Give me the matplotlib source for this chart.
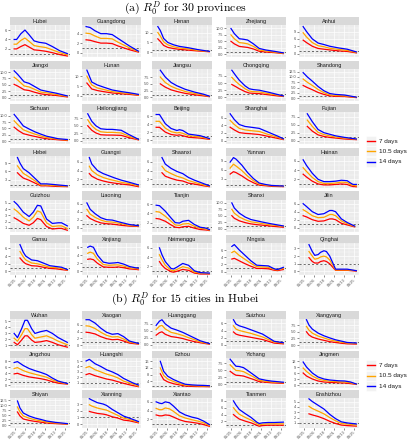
import matplotlib
matplotlib.use("Agg")
import matplotlib.pyplot as plt
from matplotlib.patches import Rectangle

plt.rcParams["font.family"] = ["Liberation Sans", "DejaVu Sans"]
plt.rcParams["mathtext.fontset"] = "cm"

W, H = 407, 440

# ---------------------------------------------------------------------------
# Data: day index of each estimate and R0 for the three serial intervals
# ---------------------------------------------------------------------------
PROVINCES = ["Hubei", "Guangdong", "Henan", "Zhejiang", "Anhui",
             "Jiangxi", "Hunan", "Jiangsu", "Chongqing", "Shandong",
             "Sichuan", "Heilongjiang", "Beijing", "Shanghai", "Fujian",
             "Hebei", "Guangxi", "Shaanxi", "Yunnan", "Hainan",
             "Guizhou", "Liaoning", "Tianjin", "Shanxi", "Jilin",
             "Gansu", "Xinjiang", "Neimenggu", "Ningxia", "Qinghai"]
CITIES = ["Wuhan", "Xiaogan", "Huanggang", "Suizhou", "Xiangyang",
          "Jingzhou", "Huangshi", "Ezhou", "Yichang", "Jingmen",
          "Shiyan", "Xianning", "Xiantao", "Tianmen", "Enshizhou"]

DAY_TICKS = [1, 13, 25, 37, 49, 61]
DAY_LABELS = ["01/25", "02/06", "02/18", "03/01", "03/13", "03/25"]

DAYS = {
    "Hubei": [0, 3, 8, 13, 18, 24, 30, 38, 46, 55, 64],
    "Guangdong": [0, 5, 11, 18, 25, 32, 39, 46, 53, 64],
    "Henan": [2, 5, 9, 14, 21, 28, 39, 50, 64],
    "Zhejiang": [1, 5, 11, 16, 21, 28, 35, 43, 53, 64],
    "Anhui": [0, 4, 11, 18, 25, 32, 43, 53, 64],
    "Jiangxi": [0, 4, 12, 18, 25, 32, 39, 50, 64],
    "Hunan": [1, 4, 7, 14, 21, 32, 43, 53, 64],
    "Jiangsu": [5, 11, 18, 25, 35, 46, 57, 64],
    "Chongqing": [2, 7, 11, 18, 23, 28, 35, 46, 57, 64],
    "Shandong": [0, 5, 11, 18, 25, 32, 39, 50, 64],
    "Sichuan": [0, 5, 11, 18, 25, 32, 39, 53, 64],
    "Heilongjiang": [2, 7, 12, 18, 25, 32, 43, 53, 64],
    "Beijing": [0, 4, 11, 18, 25, 28, 32, 39, 53, 64],
    "Shanghai": [0, 5, 11, 18, 25, 35, 46, 57, 64],
    "Fujian": [5, 11, 18, 25, 32, 39, 50, 64],
    "Hebei": [4, 7, 11, 18, 25, 32, 39, 50, 64],
    "Guangxi": [4, 7, 14, 21, 28, 35, 43, 53, 64],
    "Shaanxi": [7, 11, 18, 25, 32, 39, 46, 57, 64],
    "Yunnan": [0, 4, 7, 14, 21, 28, 35, 43, 50, 64],
    "Hainan": [0, 4, 11, 18, 25, 32, 39, 46, 53, 57, 60, 64],
    "Guizhou": [0, 4, 11, 18, 23, 28, 32, 39, 46, 53, 57, 64],
    "Liaoning": [1, 5, 11, 18, 25, 32, 43, 53, 64],
    "Tianjin": [0, 4, 11, 18, 23, 28, 32, 39, 46, 53, 60, 64],
    "Shanxi": [2, 5, 11, 18, 25, 32, 39, 50, 64],
    "Jilin": [0, 4, 11, 18, 25, 32, 35, 39, 46, 53, 62],
    "Gansu": [7, 11, 14, 21, 28, 35, 43, 50, 57, 64],
    "Xinjiang": [2, 5, 9, 14, 21, 28, 35, 39, 46, 53, 60, 64],
    "Neimenggu": [4, 7, 11, 18, 21, 25, 32, 39, 46, 53, 64],
    "Ningxia": [2, 5, 11, 18, 25, 32, 39, 46, 53, 57, 64],
    "Qinghai": [7, 11, 14, 18, 21, 25, 28, 32, 39, 46, 53, 64],
    "Wuhan": [0, 4, 9, 13, 16, 21, 25, 32, 39, 46, 53, 64],
    "Xiaogan": [0, 4, 11, 18, 25, 32, 39, 46, 53, 64],
    "Huanggang": [0, 4, 7, 11, 18, 25, 32, 39, 46, 53, 64],
    "Suizhou": [4, 7, 11, 18, 25, 32, 39, 46, 53, 64],
    "Xiangyang": [4, 7, 11, 18, 25, 32, 39, 46, 53, 64],
    "Jingzhou": [0, 4, 11, 18, 25, 32, 39, 46, 53, 64],
    "Huangshi": [0, 4, 11, 18, 25, 32, 39, 46, 57, 64],
    "Ezhou": [5, 9, 14, 21, 28, 35, 43, 50, 57, 64],
    "Yichang": [0, 4, 7, 11, 16, 21, 28, 35, 43, 50, 64],
    "Jingmen": [0, 4, 11, 18, 25, 32, 43, 50, 57, 64],
    "Shiyan": [4, 7, 11, 18, 25, 32, 39, 50, 64],
    "Xianning": [4, 7, 14, 21, 25, 32, 39, 46, 53, 64],
    "Xiantao": [0, 4, 7, 11, 16, 21, 28, 35, 43, 50, 57, 64],
    "Tianmen": [4, 7, 11, 18, 25, 32, 35, 39, 46, 53, 64],
    "Enshizhou": [7, 11, 18, 25, 32, 39, 46, 53, 64],
}

R_14 = {
    "Hubei": [4.0, 4.0, 5.2, 6.0, 5.0, 3.7, 3.4, 3.2, 2.5, 1.6, 1.0],
    "Guangdong": [5.5, 5.3, 4.6, 4.0, 4.0, 3.8, 3.0, 2.2, 1.4, 0.3],
    "Henan": [13, 11, 7, 5, 3.8, 3.0, 2.3, 1.4, 0.5],
    "Zhejiang": [10, 8.0, 6.0, 5.8, 5.5, 4.0, 2.2, 1.6, 1.1, 0.5],
    "Anhui": [11, 9, 6, 4.3, 3.7, 3.0, 2.3, 1.8, 0.7],
    "Jiangxi": [10.5, 9.2, 6.2, 5.6, 4.3, 3.0, 2.5, 1.8, 0.7],
    "Hunan": [13, 10, 7, 5.5, 4.5, 3.0, 2.2, 1.6, 0.8],
    "Jiangsu": [10, 7.5, 5.5, 4.3, 3.0, 2.0, 1.2, 0.5],
    "Chongqing": [9.5, 7.5, 6.0, 4.0, 3.0, 2.7, 2.5, 1.8, 1.0, 0.5],
    "Shandong": [12, 10, 8, 5.5, 3.5, 2.2, 1.8, 1.5, 0.5],
    "Sichuan": [10.5, 8.5, 6, 4.8, 3.7, 2.8, 2.0, 1.0, 0.7],
    "Heilongjiang": [9, 6.5, 5, 4, 3.8, 3.8, 3.5, 2.0, 0.5],
    "Beijing": [6.5, 6.5, 4.2, 3.0, 2.5, 2.7, 2.5, 1.6, 1.2, 0.5],
    "Shanghai": [7, 5.5, 4.2, 3.7, 3.5, 3.2, 2.2, 1.2, 0.5],
    "Fujian": [8.5, 6, 3.5, 2.5, 2.0, 1.5, 1.0, 0.5],
    "Hebei": [11, 9, 7, 5.5, 3.5, 1.5, 1.5, 1.2, 0.8],
    "Guangxi": [7, 5.5, 4, 3.3, 2.8, 2.3, 1.8, 1.3, 0.7],
    "Shaanxi": [7, 5.5, 4.5, 3.8, 3.3, 2.4, 1.8, 1.0, 0.5],
    "Yunnan": [8.5, 10, 9.5, 7.5, 5, 3, 1.5, 1.0, 0.7, 0.5],
    "Hainan": [6.2, 5, 3.3, 2, 1.5, 1.5, 1.6, 1.8, 1.7, 1.2, 0.9, 0.9],
    "Guizhou": [5.2, 4.7, 3.5, 2.8, 3.5, 4.6, 4.5, 2.4, 1.7, 1.8, 1.8, 1.3],
    "Liaoning": [6.2, 4.6, 3.5, 2.5, 2.0, 1.9, 1.3, 0.8, 0.5],
    "Tianjin": [5.8, 5.7, 4.5, 3.0, 2.0, 1.9, 2.3, 2.5, 1.6, 1.0, 0.8, 0.5],
    "Shanxi": [10, 8, 6, 4.5, 3.5, 3, 2.5, 1.8, 1.0],
    "Jilin": [6, 5.3, 4.0, 3.3, 3.5, 4.3, 4.3, 4.0, 2.2, 1.3, 0.4],
    "Gansu": [7, 5, 4, 3.0, 2.8, 2.2, 1.5, 1.3, 1.1, 0.5],
    "Xinjiang": [6.0, 6.3, 6.0, 4.0, 2.3, 2.0, 2.1, 2.2, 1.8, 1.2, 0.9, 0.8],
    "Neimenggu": [6, 4.5, 3.0, 1.5, 1.4, 1.8, 2.6, 2.2, 1.0, 0.6, 0.5],
    "Ningxia": [7, 7.5, 6, 4.5, 3.0, 1.8, 1.7, 1.6, 0.8, 0.6, 1.2],
    "Qinghai": [3.5, 2.6, 2.1, 2.2, 2.5, 2.7, 2.6, 2.0, 0.3, 0.3, 0.3, 0.1],
    "Wuhan": [3.0, 2.3, 3.8, 5.2, 5.2, 3.8, 3.0, 3.3, 3.5, 3.0, 2.3, 1.5],
    "Xiaogan": [7.5, 7.5, 6.5, 5.0, 3.8, 3.2, 3.4, 2.5, 1.2, 0.5],
    "Huanggang": [7, 8.5, 9, 7.5, 6, 5.3, 4.5, 3.5, 2.5, 1.5, 0.5],
    "Suizhou": [7, 5.8, 5.3, 4.8, 4.2, 3.6, 3.0, 2.0, 1.0, 0.6],
    "Xiangyang": [9.5, 7.5, 6, 4.5, 3.5, 2.7, 2.0, 1.5, 1.0, 0.8],
    "Jingzhou": [7.5, 7.8, 6.5, 5.5, 4.8, 4.2, 3.5, 2.3, 1.3, 0.5],
    "Huangshi": [5, 5.3, 4.5, 4.0, 3.4, 3.0, 2.5, 1.8, 1.0, 0.6],
    "Ezhou": [16, 10, 7, 5, 3.5, 2.2, 1.8, 1.6, 1.5, 1.3],
    "Yichang": [9, 7.5, 6.5, 6.4, 6.0, 5.0, 3.5, 2.0, 1.5, 1.2, 0.8],
    "Jingmen": [11.5, 9, 6, 4, 3, 2.5, 2.1, 2.0, 1.5, 0.5],
    "Shiyan": [12, 8.5, 6.0, 4.5, 3.5, 2.8, 2.0, 1.3, 0.7],
    "Xianning": [3.8, 3.6, 3.2, 3.0, 2.8, 2.2, 1.7, 1.2, 0.9, 0.4],
    "Xiantao": [6.0, 5.7, 5.6, 6.0, 5.8, 5.0, 3.7, 3.0, 2.5, 2.2, 1.6, 0.8],
    "Tianmen": [8, 6.8, 5.5, 4.3, 3.2, 1.8, 1.4, 1.6, 1.7, 1.7, 1.8],
    "Enshizhou": [5.5, 5.0, 4.3, 3.6, 2.6, 1.8, 1.2, 1.0, 0.8],
}

R_105 = {
    "Hubei": [3.0, 3.0, 3.8, 4.3, 3.6, 2.7, 2.5, 2.3, 1.8, 1.2, 0.75],
    "Guangdong": [4.1, 4.0, 3.5, 3.0, 3.0, 2.9, 2.2, 1.6, 1.0, 0.2],
    "Henan": [10, 8.2, 5.3, 3.8, 2.8, 2.2, 1.7, 1.0, 0.4],
    "Zhejiang": [7.5, 6.0, 4.5, 4.3, 4.0, 3.0, 1.6, 1.2, 0.8, 0.3],
    "Anhui": [8.5, 6.8, 4.5, 3.2, 2.8, 2.2, 1.7, 1.3, 0.5],
    "Jiangxi": [8.0, 7.0, 4.6, 4.2, 3.2, 2.2, 1.9, 1.3, 0.5],
    "Hunan": [10, 7.5, 5.5, 4.0, 3.3, 2.2, 1.6, 1.2, 0.5],
    "Jiangsu": [7.5, 5.5, 4.1, 3.2, 2.2, 1.5, 0.9, 0.4],
    "Chongqing": [7.0, 5.5, 4.5, 3.0, 2.2, 2.0, 1.9, 1.3, 0.8, 0.4],
    "Shandong": [9, 7.5, 6, 4.1, 2.6, 1.6, 1.3, 1.1, 0.4],
    "Sichuan": [8, 6.3, 4.5, 3.6, 2.8, 2.1, 1.5, 0.8, 0.5],
    "Heilongjiang": [7, 5, 3.8, 3, 2.8, 2.8, 2.6, 1.5, 0.4],
    "Beijing": [4.8, 4.8, 3.1, 2.2, 1.9, 2.0, 1.8, 1.2, 0.9, 0.4],
    "Shanghai": [5.3, 4.2, 3.2, 2.8, 2.6, 2.4, 1.6, 0.9, 0.4],
    "Fujian": [6.5, 4.5, 2.6, 1.9, 1.5, 1.1, 0.8, 0.4],
    "Hebei": [8, 6.8, 5.3, 4, 2.6, 1.1, 1.1, 0.9, 0.6],
    "Guangxi": [5, 4, 3, 2.4, 2, 1.7, 1.3, 1.0, 0.5],
    "Shaanxi": [5, 4, 3.3, 2.7, 2.3, 1.7, 1.3, 0.7, 0.4],
    "Yunnan": [6.5, 7.8, 7.2, 5.7, 3.8, 2.3, 1.2, 0.8, 0.6, 0.4],
    "Hainan": [4.5, 3.7, 2.4, 1.5, 1.1, 1.1, 1.2, 1.4, 1.3, 0.9, 0.7, 0.6],
    "Guizhou": [4.0, 3.6, 2.7, 2.1, 2.7, 3.7, 3.5, 1.8, 1.2, 1.3, 1.3, 0.9],
    "Liaoning": [4.6, 3.4, 2.6, 1.9, 1.5, 1.4, 1.0, 0.6, 0.4],
    "Tianjin": [4.4, 4.3, 3.4, 2.3, 1.5, 1.4, 1.7, 1.8, 1.2, 0.8, 0.6, 0.4],
    "Shanxi": [7.5, 6, 4.5, 3.4, 2.6, 2.3, 1.9, 1.4, 0.8],
    "Jilin": [4.5, 4.0, 3.0, 2.5, 2.6, 3.3, 3.3, 3.0, 1.7, 1.0, 0.3],
    "Gansu": [5.2, 3.8, 3.0, 2.2, 2.0, 1.6, 1.1, 1.0, 0.8, 0.4],
    "Xinjiang": [4.5, 4.8, 4.5, 3.0, 1.7, 1.5, 1.6, 1.6, 1.3, 0.9, 0.7, 0.6],
    "Neimenggu": [4.5, 3.4, 2.2, 1.1, 1.0, 1.3, 1.9, 1.6, 0.7, 0.5, 0.4],
    "Ningxia": [5.3, 5.7, 4.5, 3.4, 2.3, 1.4, 1.3, 1.2, 0.6, 0.5, 0.9],
    "Qinghai": [2.6, 2.0, 1.6, 1.7, 1.9, 2.0, 1.9, 1.5, 0.2, 0.2, 0.2, 0.1],
    "Wuhan": [2.2, 1.7, 2.8, 3.8, 3.8, 2.8, 2.2, 2.4, 2.6, 2.2, 1.7, 1.1],
    "Xiaogan": [5.7, 5.6, 4.9, 3.8, 2.9, 2.4, 2.5, 1.8, 0.9, 0.4],
    "Huanggang": [5.5, 6.7, 7, 5.7, 4.5, 4.0, 3.4, 2.6, 1.9, 1.1, 0.4],
    "Suizhou": [5.3, 4.4, 4.0, 3.6, 3.2, 2.7, 2.2, 1.5, 0.8, 0.5],
    "Xiangyang": [7, 5.6, 4.5, 3.4, 2.7, 2.0, 1.5, 1.1, 0.8, 0.6],
    "Jingzhou": [5.5, 5.8, 4.8, 4.1, 3.6, 3.1, 2.6, 1.7, 1.0, 0.4],
    "Huangshi": [3.8, 4.0, 3.4, 3.0, 2.6, 2.3, 1.9, 1.3, 0.8, 0.4],
    "Ezhou": [12, 7.5, 5.3, 3.8, 2.6, 1.7, 1.4, 1.2, 1.1, 1.0],
    "Yichang": [7, 5.8, 5.0, 4.9, 4.6, 3.8, 2.7, 1.5, 1.1, 0.9, 0.6],
    "Jingmen": [8.5, 6.8, 4.5, 3, 2.3, 1.9, 1.6, 1.5, 1.1, 0.4],
    "Shiyan": [9, 6.5, 4.5, 3.4, 2.6, 2.1, 1.5, 1.0, 0.5],
    "Xianning": [2.9, 2.7, 2.4, 2.2, 2.1, 1.7, 1.3, 0.9, 0.7, 0.3],
    "Xiantao": [4.5, 4.2, 4.2, 4.6, 4.4, 3.8, 2.8, 2.3, 1.9, 1.6, 1.2, 0.6],
    "Tianmen": [6, 5.1, 4.1, 3.2, 2.4, 1.4, 1.0, 1.2, 1.3, 1.3, 1.3],
    "Enshizhou": [4.1, 3.7, 3.2, 2.7, 2.0, 1.4, 0.9, 0.8, 0.6],
}

R_7 = {
    "Hubei": [2.0, 2.0, 2.5, 2.9, 2.4, 1.8, 1.7, 1.5, 1.2, 0.8, 0.5],
    "Guangdong": [2.7, 2.6, 2.3, 2.0, 2.0, 1.9, 1.4, 1.0, 0.6, 0.1],
    "Henan": [6.8, 5.5, 3.5, 2.5, 1.9, 1.5, 1.1, 0.7, 0.3],
    "Zhejiang": [5.0, 4.0, 3.0, 2.8, 2.6, 2.0, 1.1, 0.8, 0.6, 0.2],
    "Anhui": [5.5, 4.5, 3.0, 2.1, 1.8, 1.5, 1.1, 0.9, 0.3],
    "Jiangxi": [5.2, 4.6, 3.1, 2.8, 2.1, 1.5, 1.2, 0.9, 0.3],
    "Hunan": [6.5, 5.0, 3.5, 2.7, 2.2, 1.5, 1.1, 0.8, 0.3],
    "Jiangsu": [5.0, 3.8, 2.8, 2.2, 1.5, 1.0, 0.6, 0.3],
    "Chongqing": [4.5, 3.7, 3.0, 2.0, 1.5, 1.4, 1.3, 0.9, 0.5, 0.3],
    "Shandong": [6, 5, 4, 2.7, 1.8, 1.1, 0.9, 0.8, 0.3],
    "Sichuan": [5.5, 4.2, 3, 2.4, 1.9, 1.4, 1.0, 0.6, 0.3],
    "Heilongjiang": [5, 3.5, 2.6, 2, 1.9, 1.9, 1.8, 1.0, 0.3],
    "Beijing": [3.3, 3.3, 2.1, 1.5, 1.3, 1.4, 1.2, 0.8, 0.6, 0.3],
    "Shanghai": [3.5, 2.8, 2.1, 1.9, 1.8, 1.6, 1.1, 0.6, 0.3],
    "Fujian": [4.5, 3.0, 1.8, 1.3, 1.0, 0.8, 0.5, 0.3],
    "Hebei": [5.5, 4.6, 3.6, 2.8, 1.8, 0.8, 0.8, 0.6, 0.5],
    "Guangxi": [3.3, 2.7, 2, 1.6, 1.3, 1.1, 0.9, 0.7, 0.3],
    "Shaanxi": [3.5, 2.7, 2.2, 1.8, 1.6, 1.1, 0.9, 0.5, 0.3],
    "Yunnan": [4.5, 5.3, 5.0, 3.9, 2.6, 1.6, 0.8, 0.6, 0.4, 0.3],
    "Hainan": [3.1, 2.5, 1.6, 1.0, 0.8, 0.8, 0.9, 1.0, 0.9, 0.6, 0.45, 0.4],
    "Guizhou": [2.6, 2.3, 1.7, 1.4, 1.8, 2.5, 2.3, 1.2, 0.8, 0.9, 0.9, 0.6],
    "Liaoning": [3.0, 2.3, 1.7, 1.2, 1.0, 0.9, 0.6, 0.4, 0.3],
    "Tianjin": [2.9, 2.8, 2.3, 1.5, 1.0, 0.9, 1.1, 1.2, 0.8, 0.5, 0.4, 0.3],
    "Shanxi": [5, 4, 3, 2.3, 1.8, 1.5, 1.3, 0.9, 0.5],
    "Jilin": [3.0, 2.7, 2.0, 1.6, 1.7, 2.2, 2.2, 2.0, 1.1, 0.7, 0.2],
    "Gansu": [3.5, 2.5, 2, 1.5, 1.4, 1.1, 0.8, 0.7, 0.5, 0.3],
    "Xinjiang": [3.0, 3.1, 2.9, 2.0, 1.1, 1.0, 1.0, 1.1, 0.9, 0.6, 0.5, 0.4],
    "Neimenggu": [3.0, 2.2, 1.5, 0.8, 0.7, 0.9, 1.3, 1.1, 0.5, 0.3, 0.3],
    "Ningxia": [3.5, 3.7, 3.0, 2.2, 1.5, 0.9, 0.9, 0.8, 0.4, 0.3, 0.6],
    "Qinghai": [1.8, 1.3, 1.1, 1.1, 1.3, 1.4, 1.3, 1.0, 0.15, 0.15, 0.15, 0.05],
    "Wuhan": [1.5, 1.1, 1.9, 2.6, 2.6, 1.9, 1.5, 1.6, 1.8, 1.5, 1.1, 0.7],
    "Xiaogan": [3.8, 3.7, 3.3, 2.5, 1.9, 1.6, 1.7, 1.2, 0.6, 0.3],
    "Huanggang": [3.5, 4.4, 4.7, 3.8, 3.0, 2.7, 2.3, 1.7, 1.2, 0.8, 0.3],
    "Suizhou": [3.6, 3.0, 2.7, 2.4, 2.1, 1.8, 1.5, 1.0, 0.5, 0.3],
    "Xiangyang": [5, 3.8, 3, 2.3, 1.8, 1.3, 1.0, 0.7, 0.5, 0.4],
    "Jingzhou": [3.7, 3.9, 3.2, 2.7, 2.4, 2.1, 1.7, 1.1, 0.6, 0.3],
    "Huangshi": [2.5, 2.7, 2.3, 2.0, 1.7, 1.5, 1.2, 0.9, 0.5, 0.3],
    "Ezhou": [8.5, 5, 3.6, 2.5, 1.8, 1.1, 0.9, 0.8, 0.8, 0.7],
    "Yichang": [4.7, 3.8, 3.3, 3.2, 3.0, 2.5, 1.8, 1.0, 0.8, 0.6, 0.4],
    "Jingmen": [6, 4.5, 3, 2, 1.5, 1.3, 1.1, 1.0, 0.7, 0.3],
    "Shiyan": [6.5, 4.5, 3.0, 2.3, 1.8, 1.4, 1.0, 0.7, 0.4],
    "Xianning": [1.9, 1.8, 1.6, 1.5, 1.4, 1.1, 0.9, 0.6, 0.5, 0.2],
    "Xiantao": [3.0, 2.8, 2.8, 3.0, 2.9, 2.5, 1.9, 1.5, 1.3, 1.1, 0.8, 0.4],
    "Tianmen": [4, 3.4, 2.7, 2.1, 1.6, 0.9, 0.6, 0.8, 0.9, 0.9, 0.9],
    "Enshizhou": [2.7, 2.5, 2.2, 1.8, 1.3, 0.9, 0.6, 0.5, 0.4],
}

Y_TICKS = {
    "Hubei": [2, 4, 6], "Guangdong": [0, 2, 4], "Henan": [0, 5, 10],
    "Zhejiang": [0, 2.5, 5, 7.5, 10], "Anhui": [0, 3, 6, 9],
    "Jiangxi": [0, 2.5, 5, 7.5, 10], "Hunan": [0, 5, 10],
    "Jiangsu": [0, 2.5, 5, 7.5], "Chongqing": [0, 2.5, 5, 7.5],
    "Shandong": [0, 2.5, 5, 7.5, 10, 12.5],
    "Sichuan": [0, 2.5, 5, 7.5, 10], "Heilongjiang": [0, 2.5, 5, 7.5],
    "Beijing": [0, 2, 4, 6], "Shanghai": [0, 2, 4, 6],
    "Fujian": [0, 2.5, 5, 7.5], "Hebei": [3, 6, 9], "Guangxi": [2, 4, 6],
    "Shaanxi": [2, 4, 6], "Yunnan": [3, 6, 9], "Hainan": [2, 4, 6],
    "Guizhou": [1, 2, 3, 4, 5], "Liaoning": [0, 2, 4, 6],
    "Tianjin": [2, 4, 6], "Shanxi": [0, 2.5, 5, 7.5, 10],
    "Jilin": [0, 2, 4, 6], "Gansu": [0, 2, 4, 6], "Xinjiang": [0, 2, 4, 6],
    "Neimenggu": [2, 4, 6], "Ningxia": [0, 2, 4, 6], "Qinghai": [0, 1, 2, 3],
    "Wuhan": [1, 2, 3, 4, 5], "Xiaogan": [0, 2, 4, 6],
    "Huanggang": [0, 2.5, 5, 7.5], "Suizhou": [0, 2, 4, 6],
    "Xiangyang": [0, 2.5, 5, 7.5], "Jingzhou": [0, 2, 4, 6, 8],
    "Huangshi": [1, 2, 3, 4, 5], "Ezhou": [4, 8, 12, 16],
    "Yichang": [0, 2.5, 5, 7.5], "Jingmen": [0, 3, 6, 9, 12],
    "Shiyan": [0, 2.5, 5, 7.5, 10, 12.5], "Xianning": [0, 1, 2, 3],
    "Xiantao": [2, 4, 6], "Tianmen": [2, 4, 6, 8],
    "Enshizhou": [1, 2, 3, 4, 5],
}

SERIES = [("7 days", R_7, "#FF0000"),
          ("10.5 days", R_105, "#FFA500"),
          ("14 days", R_14, "#0000FF")]

# ---------------------------------------------------------------------------
# Layout (pixels)
# ---------------------------------------------------------------------------
COLS = [(10, 70), (82, 141), (152, 212), (226, 286), (299, 359)]
PANEL_BG = "#EBEBEB"
STRIP_BG = "#D9D9D9"


def px_axes(fig, x0, y0, x1, y1):
    return fig.add_axes([x0 / W, 1 - y1 / H, (x1 - x0) / W, (y1 - y0) / H])


def draw_panel(fig, name, x0, x1, top, strip_h, plot_h, bottom_row):
    sax = px_axes(fig, x0, top, x1, top + strip_h)
    sax.set_facecolor(STRIP_BG)
    sax.set_xticks([])
    sax.set_yticks([])
    for s in sax.spines.values():
        s.set_visible(False)
    sax.text(0.5, 0.45, name, ha="center", va="center", fontsize=4.0,
             color="#1A1A1A", transform=sax.transAxes)

    ax = px_axes(fig, x0, top + strip_h, x1, top + strip_h + plot_h)
    ax.set_facecolor(PANEL_BG)
    for s in ax.spines.values():
        s.set_visible(False)

    vals = R_7[name] + R_105[name] + R_14[name] + [1.0]
    lo, hi = min(vals), max(vals)
    pad = 0.05 * (hi - lo)
    ax.set_ylim(lo - pad, hi + pad)
    ax.set_xlim(-3.2, 67.2)

    yt = Y_TICKS[name]
    step = yt[1] - yt[0]
    ax.set_yticks(yt)
    if all(float(v).is_integer() for v in yt):
        ax.set_yticklabels([f"{v:g}" for v in yt])
    else:
        ax.set_yticklabels([f"{v:.1f}" for v in yt])
    ax.set_yticks([yt[0] - step / 2] + [v + step / 2 for v in yt], minor=True)
    xstep = DAY_TICKS[1] - DAY_TICKS[0]
    ax.set_xticks(DAY_TICKS)
    ax.set_xticks([DAY_TICKS[0] - xstep / 2] + [v + xstep / 2 for v in DAY_TICKS],
                  minor=True)
    ax.grid(True, which="major", color="white", lw=0.5)
    ax.grid(True, which="minor", color="white", lw=0.25)
    ax.set_axisbelow(True)
    ax.tick_params(which="major", length=1.2, width=0.4, color="#333333",
                   labelsize=2.8, labelcolor="#4D4D4D", pad=0.8)
    ax.tick_params(which="minor", length=0)
    if bottom_row:
        ax.set_xticklabels(DAY_LABELS, rotation=45, ha="right",
                           rotation_mode="anchor")
        ax.tick_params(axis="x", pad=0.6)
    else:
        ax.set_xticklabels([])
        ax.tick_params(axis="x", which="major", length=0)

    ax.axhline(1, color="#333333", lw=0.5, ls=(0, (3, 3)), zorder=2)
    for _, data, color in SERIES:
        ax.plot(DAYS[name], data[name], color=color, lw=0.9, zorder=3)


def draw_legend(fig, x0, y0):
    lax = px_axes(fig, x0, y0, x0 + 42, y0 + 34)
    lax.set_xlim(0, 42)
    lax.set_ylim(34, 0)
    lax.axis("off")
    for i, (label, _, color) in enumerate(SERIES):
        yc = 5 + i * 10.5
        lax.add_patch(Rectangle((1, yc - 5), 10, 10, facecolor="#F2F2F2",
                                edgecolor="white", lw=0.4))
        lax.plot([2, 10], [yc, yc], color=color, lw=1.0)
        lax.text(14, yc, label, va="center", ha="left", fontsize=4.6,
                 color="#1A1A1A")


fig = plt.figure(figsize=(W / 100, H / 100), dpi=100)

fig.text(185 / W, 1 - 8 / H,
         r"$\mathrm{(a)}\ R_0^D\ \mathrm{for\ 30\ provinces}$",
         ha="center", va="center", fontsize=8.5)
for k, name in enumerate(PROVINCES):
    r, c = divmod(k, 5)
    top = 17 + 43.6 * r
    draw_panel(fig, name, COLS[c][0], COLS[c][1], top, 8.3, 32, r == 5)
draw_legend(fig, 365, 136)

fig.text(185 / W, 1 - 299 / H,
         r"$\mathrm{(b)}\ R_0^D\ \mathrm{for\ 15\ cities\ in\ Hubei}$",
         ha="center", va="center", fontsize=8.5)
for k, name in enumerate(CITIES):
    r, c = divmod(k, 5)
    top = 311 + 39.5 * r
    draw_panel(fig, name, COLS[c][0], COLS[c][1], top, 7.5, 30, r == 2)
draw_legend(fig, 365, 360)

fig.savefig("out.png", dpi=100)
